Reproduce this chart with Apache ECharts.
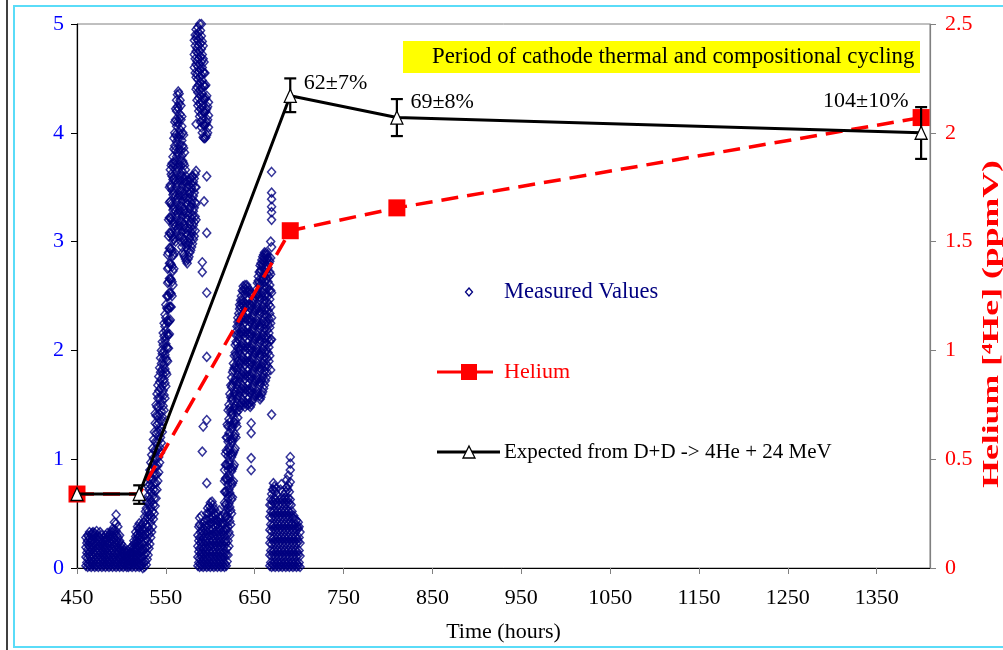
<!DOCTYPE html>
<html><head><meta charset="utf-8">
<script src="https://cdn.jsdelivr.net/npm/echarts@6/dist/echarts.min.js"></script>
<style>html,body{margin:0;padding:0;background:#fff}#c{width:1003px;height:650px}</style>
</head><body><div id="c"></div>
<script>
// ---------- data ----------
const heliumHours = [450, 520, 690, 810, 1400];
const heliumPpmV = [0.34, 0.34, 1.55, 1.655, 2.07];
const expectedHours = [450, 520, 690, 810, 1400];
const expectedPpmV = [0.34, 0.34, 2.17, 2.07, 2.0];
const expectedErrLow = [null, 0.295, 2.095, 1.985, 1.88];
const expectedErrHigh = [null, 0.38, 2.25, 2.155, 2.118];
const expectedNotes = ['', '', '62±7%', '69±8%', '104±10%'];
const seriesNames = ['Measured Values', 'Helium', 'Expected from D+D -> 4He + 24 MeV'];
const rightAxisTitle = 'Helium [\u2074He] (ppmV)';
// measured values: [hour, value, value, ...]
const measuredColumns = [
[460,0.02,0.1,0.19,0.28],[461,0.05,0.14,0.23],[462,0.01,0.09,0.17,0.25,0.3],[463,0.04,0.13,0.21,0.29],
[464,0.02,0.11,0.2,0.27,0.33],[465,0.06,0.15,0.24],[466,0.01,0.08,0.17,0.25,0.3],[467,0.04,0.12,0.21,0.32],
[468,0.02,0.1,0.19,0.27,0.33],[469,0.05,0.14,0.23,0.3],[470,0.01,0.08,0.16,0.24,0.32],[471,0.03,0.12,0.2,0.28],
[472,0.02,0.1,0.18,0.26,0.34],[473,0.05,0.14,0.22,0.3],[474,0.01,0.09,0.17,0.25],[475,0.04,0.12,0.2,0.29],
[476,0.02,0.1,0.19,0.27,0.33],[477,0.06,0.14,0.22],[478,0.01,0.09,0.17,0.24,0.3],[479,0.04,0.12,0.2],
[480,0.02,0.1,0.18,0.25],[481,0.05,0.13,0.21,0.28],[482,0.01,0.09,0.17,0.24,0.3],[483,0.04,0.12,0.2,0.27],
[484,0.02,0.1,0.18,0.26,0.32],[485,0.05,0.13,0.22,0.29],[486,0.01,0.09,0.17,0.24,0.3],[487,0.04,0.12,0.2,0.28],
[488,0.02,0.1,0.18,0.26,0.33],[489,0.05,0.14,0.22,0.3],[490,0.01,0.09,0.17,0.25,0.33,0.36],[491,0.04,0.12,0.21,0.29],
[492,0.02,0.1,0.19,0.27,0.35,0.42],[493,0.05,0.14,0.23,0.31],[494,0.01,0.09,0.18,0.26,0.34,0.41,0.49],[495,0.04,0.13,0.22,0.3],
[496,0.02,0.1,0.19,0.28,0.38],[497,0.05,0.14,0.23],[498,0.01,0.09,0.17,0.25,0.3],[499,0.04,0.12,0.2],
[500,0.02,0.1,0.17,0.22],[501,0.05,0.13],[502,0.01,0.08,0.14,0.2],[503,0.04,0.11,0.17],
[504,0.02,0.09,0.15],[505,0.05,0.12],[506,0.01,0.08,0.14],[507,0.03,0.11,0.16],
[508,0.01,0.07,0.13],[509,0.04,0.1],[510,0.02,0.08,0.14,0.18],[511,0.05,0.12],
[512,0.01,0.08,0.14,0.2],[513,0.04,0.11,0.18],[514,0.02,0.09,0.16,0.22,0.25],[515,0.05,0.12,0.19],
[516,0.01,0.08,0.15,0.22,0.29,0.33],[517,0.04,0.11,0.18,0.26],[518,0.02,0.09,0.16,0.24,0.31,0.38],[519,0.05,0.12,0.2,0.28,0.36],
[520,0.01,0.08,0.15,0.23,0.3,0.36,0.41],[521,0.03,0.11,0.19,0.27,0.34],[522,0.02,0.09,0.16,0.24,0.32,0.38],
[523,0.03,0.15,0.28,0.4],[524,0.0,0.1,0.22,0.35],[525,0.05,0.17,0.3,0.42],[526,0.01,0.12,0.24,0.36,0.47],
[527,0.06,0.18,0.31,0.44,0.52],[528,0.03,0.14,0.27,0.4,0.55,0.62],[529,0.08,0.2,0.33,0.47,0.6],
[530,0.12,0.25,0.38,0.52,0.66,0.75],[531,0.18,0.31,0.45,0.59,0.72,0.82],[532,0.22,0.35,0.49,0.63,0.77,0.9],
[533,0.28,0.42,0.56,0.7,0.84,0.97],[534,0.33,0.47,0.61,0.75,0.9,1.04],[535,0.38,0.52,0.66,0.81,0.95,1.1],
[536,0.45,0.58,0.72,0.87,1.01,1.18],[537,0.5,0.64,0.78,0.93,1.08,1.25],[538,0.57,0.71,0.86,1.01,1.16,1.33,1.42],
[539,0.64,0.78,0.93,1.08,1.24,1.4,1.5],[540,0.72,0.86,1.01,1.16,1.32,1.48,1.6],[541,0.8,0.94,1.09,1.25,1.4,1.56,1.68],
[542,0.88,1.02,1.17,1.33,1.48,1.63,1.76],[543,0.97,1.11,1.26,1.41,1.56,1.71,1.84],[544,1.06,1.2,1.35,1.5,1.65,1.8,1.93],
[545,1.15,1.29,1.44,1.59,1.74,1.88,2.0],[546,1.25,1.39,1.54,1.68,1.83,1.97,2.08],[547,1.35,1.49,1.63,1.78,1.92,2.05,2.16],
[548,1.45,1.59,1.73,1.87,2.0,2.13,2.25],[549,1.56,1.7,1.83,1.96,2.09,2.22,2.33],[550,1.67,1.8,1.93,2.06,2.18,2.3,2.42],
[551,1.78,1.91,2.03,2.15,2.27,2.39,2.5],[552,1.9,2.02,2.14,2.26,2.38,2.5,2.62,2.75,2.88],
[553,2.02,2.14,2.26,2.38,2.5,2.63,2.76,2.9,3.05,3.2],[554,2.15,2.27,2.4,2.53,2.66,2.8,2.94,3.08,3.22,3.36,3.5],
[555,2.28,2.4,2.53,2.66,2.8,2.94,3.08,3.22,3.37,3.52,3.66],[556,2.4,2.52,2.65,2.79,2.93,3.07,3.21,3.35,3.5,3.62,3.7],
[557,2.5,2.63,2.77,2.91,3.05,3.19,3.33,3.47,3.6,3.72],[558,2.6,2.73,2.87,3.01,3.15,3.29,3.43,3.57,3.69,3.78],
[559,2.75,2.88,3.02,3.16,3.3,3.44,3.58,3.72,3.85,3.95],[560,2.9,3.04,3.18,3.32,3.46,3.6,3.74,3.88,4.0,4.1],
[561,3.0,3.14,3.28,3.42,3.56,3.7,3.84,3.98,4.12,4.22],[562,3.08,3.22,3.36,3.5,3.64,3.78,3.92,4.06,4.2,4.3],
[563,3.12,3.26,3.4,3.54,3.68,3.82,3.96,4.1,4.24,4.35],[564,3.1,3.24,3.38,3.52,3.66,3.8,3.94,4.08,4.22,4.38],
[565,3.15,3.29,3.43,3.57,3.71,3.85,3.99,4.13,4.27,4.36],[566,3.05,3.19,3.33,3.47,3.61,3.75,3.89,4.03,4.17,4.3],
[567,3.0,3.14,3.28,3.42,3.56,3.7,3.84,3.98,4.12,4.25],[568,2.95,3.09,3.23,3.37,3.51,3.65,3.79,3.93,4.06,4.15],
[569,2.9,3.04,3.18,3.32,3.46,3.6,3.74,3.88,4.0],[570,2.88,3.02,3.16,3.3,3.44,3.58,3.72,3.86,3.98],
[571,2.86,3.0,3.14,3.28,3.42,3.56,3.7,3.82],[572,2.84,2.98,3.12,3.26,3.4,3.54,3.66],
[573,2.82,2.95,3.08,3.22,3.36,3.5,3.6],[574,2.8,2.93,3.06,3.2,3.34,3.46,3.56],
[575,2.84,2.97,3.1,3.24,3.38,3.5],[576,2.86,2.99,3.12,3.26,3.4,3.52],[577,2.9,3.03,3.16,3.3,3.44,3.56],
[578,2.92,3.05,3.18,3.32,3.46,3.58],[579,2.95,3.08,3.21,3.35,3.49,3.6],[580,2.98,3.11,3.24,3.38,3.52,3.6],
[581,3.02,3.15,3.28,3.42,3.55],[582,3.05,3.18,3.31,3.45,3.58,4.6,4.72,4.85],[583,3.1,3.23,3.36,3.5,3.62,4.55,4.68,4.8,4.9],
[584,3.2,3.35,3.5,3.65,4.08,4.4,4.51,4.63,4.75,4.87,4.95],[585,4.3,4.42,4.54,4.66,4.78,4.9],
[586,4.25,4.37,4.49,4.61,4.73,4.85,4.97],[587,4.2,4.32,4.44,4.56,4.68,4.8,4.92],
[588,4.15,4.27,4.39,4.51,4.63,4.75,4.87,5.0],[589,4.1,4.22,4.34,4.46,4.58,4.7,4.82,4.94],
[590,4.05,4.17,4.29,4.41,4.53,4.65,4.77,4.89,5.0],[591,4.0,4.12,4.24,4.36,4.48,4.6,4.72,4.84,2.81,2.72,1.07],
[592,3.96,4.08,4.2,4.32,4.44,4.56,4.68,4.8,1.3],[593,3.95,4.07,4.19,4.31,4.43,4.55,4.65,3.37],
[594,3.95,4.07,4.19,4.31,4.43,4.55],[595,3.96,4.08,4.2,4.32,4.44],
[596,3.98,4.1,4.22,4.34,3.6,3.08,2.53,1.94,1.36,0.78],[597,4.0,4.12,4.24],[598,4.05,4.16,4.28],
[586,0.02,0.1,0.2,0.3],[587,0.05,0.15,0.25,0.38],[588,0.01,0.09,0.18,0.28,0.4,0.46],[589,0.04,0.13,0.23,0.33],
[590,0.02,0.1,0.19,0.29,0.38,0.48],[591,0.05,0.14,0.24,0.34],[592,0.01,0.09,0.18,0.27,0.37],[593,0.04,0.13,0.22,0.32,0.42],
[594,0.02,0.1,0.19,0.29,0.39],[595,0.05,0.14,0.24,0.34,0.45],[596,0.01,0.09,0.18,0.28,0.38,0.5],[597,0.04,0.13,0.23,0.33,0.44,0.55],
[598,0.02,0.1,0.2,0.3,0.4,0.5],[599,0.05,0.15,0.25,0.35,0.46,0.57],[600,0.01,0.1,0.2,0.3,0.41,0.52,0.6],[601,0.04,0.13,0.23,0.34,0.45,0.55],
[602,0.02,0.11,0.21,0.31,0.42,0.53,0.61],[603,0.05,0.15,0.25,0.36,0.47,0.58],[604,0.01,0.1,0.2,0.3,0.4,0.5],[605,0.04,0.13,0.23,0.33,0.44,0.54],
[606,0.02,0.11,0.21,0.31,0.41,0.49],[607,0.05,0.14,0.24,0.34,0.44],[608,0.01,0.1,0.2,0.3,0.4,0.5],[609,0.04,0.13,0.23,0.33,0.43],
[610,0.02,0.11,0.21,0.31,0.42,0.53],[611,0.05,0.14,0.24,0.35,0.46],[612,0.01,0.1,0.2,0.3,0.4,0.48],[613,0.04,0.13,0.23,0.33,0.42],
[614,0.02,0.11,0.21,0.31,0.4],[615,0.05,0.14,0.24,0.34],
[616,0.01,0.1,0.2,0.3,0.4,0.5,0.6,0.7,0.8,0.9],[617,0.04,0.14,0.25,0.36,0.47,0.58,0.7,0.82,0.95,1.05],
[618,0.02,0.12,0.23,0.35,0.47,0.59,0.71,0.83,0.95,1.08,1.2],[619,0.06,0.18,0.3,0.42,0.55,0.68,0.81,0.94,1.07,1.2,1.32],
[620,0.12,0.25,0.38,0.51,0.64,0.77,0.9,1.03,1.16,1.3,1.45],[621,0.2,0.33,0.46,0.59,0.72,0.85,0.98,1.11,1.24,1.37,1.5],
[622,0.3,0.43,0.56,0.69,0.82,0.95,1.08,1.21,1.34,1.47,1.6],[623,0.4,0.53,0.66,0.79,0.92,1.05,1.18,1.31,1.44,1.57,1.68],
[624,0.5,0.63,0.76,0.89,1.02,1.15,1.28,1.41,1.54,1.66,1.75],[625,0.65,0.78,0.91,1.04,1.17,1.3,1.43,1.56,1.68,1.8],
[626,0.8,0.93,1.06,1.19,1.32,1.45,1.58,1.7,1.82,1.88],[627,0.95,1.08,1.21,1.34,1.47,1.6,1.72,1.84,1.95],
[628,1.1,1.23,1.36,1.49,1.62,1.74,1.86,1.98,2.05],[629,1.2,1.33,1.46,1.59,1.72,1.84,1.96,2.08,2.14],
[630,1.3,1.43,1.56,1.69,1.82,1.94,2.06,2.18,2.22],[631,1.38,1.51,1.64,1.77,1.9,2.02,2.14,2.26,2.3],
[632,1.45,1.58,1.71,1.84,1.97,2.1,2.22,2.34],[633,1.48,1.61,1.74,1.87,2.0,2.13,2.26,2.38,2.42],
[634,1.5,1.63,1.76,1.89,2.02,2.15,2.28,2.4,2.46],[635,1.52,1.65,1.78,1.91,2.04,2.17,2.3,2.43,2.5],
[636,1.55,1.68,1.81,1.94,2.07,2.2,2.33,2.46,2.55],[637,1.5,1.63,1.76,1.89,2.02,2.15,2.28,2.41,2.54,2.59],
[638,1.53,1.66,1.79,1.92,2.05,2.18,2.31,2.44,2.57],[639,1.48,1.61,1.74,1.87,2.0,2.13,2.26,2.39,2.52,2.6],
[640,1.52,1.65,1.78,1.91,2.04,2.17,2.3,2.43,2.56],[641,1.5,1.63,1.76,1.89,2.02,2.15,2.28,2.41,2.54,2.6],
[642,1.55,1.68,1.81,1.94,2.07,2.2,2.33,2.46,2.58],[643,1.5,1.63,1.76,1.89,2.02,2.15,2.28,2.41,2.54],
[644,1.52,1.65,1.78,1.91,2.04,2.17,2.3,2.43,2.55],[645,1.48,1.61,1.74,1.87,2.0,2.13,2.26,2.39,2.52],
[646,0.9,1.01,1.24,1.33,1.5,1.63,1.76,1.89,2.02,2.15,2.28,2.41,2.54],[647,1.53,1.66,1.79,1.92,2.05,2.18,2.31,2.44,2.52],
[648,1.55,1.68,1.81,1.94,2.07,2.2,2.33,2.46],[649,1.58,1.71,1.84,1.97,2.1,2.23,2.36,2.48],
[650,1.6,1.73,1.86,1.99,2.12,2.25,2.38,2.46],[651,1.58,1.71,1.84,1.97,2.1,2.23,2.36,2.49],
[652,1.6,1.73,1.86,1.99,2.12,2.25,2.38,2.51,2.56],[653,1.62,1.75,1.88,2.01,2.14,2.27,2.4,2.53,2.62],
[654,1.6,1.73,1.86,1.99,2.12,2.25,2.38,2.51,2.64,2.68],[655,1.58,1.71,1.84,1.97,2.1,2.23,2.36,2.49,2.62,2.72],
[656,1.55,1.68,1.81,1.94,2.07,2.2,2.33,2.46,2.59,2.72,2.78],[657,1.57,1.7,1.83,1.96,2.09,2.22,2.35,2.48,2.61,2.74,2.8],
[658,1.6,1.73,1.86,1.99,2.12,2.25,2.38,2.51,2.64,2.77,2.83],[659,1.62,1.75,1.88,2.01,2.14,2.27,2.4,2.53,2.66,2.79,2.86],
[660,1.65,1.78,1.91,2.04,2.17,2.3,2.43,2.56,2.69,2.82,2.88],[661,1.68,1.81,1.94,2.07,2.2,2.33,2.46,2.59,2.72,2.85,2.9],
[662,1.72,1.85,1.98,2.11,2.24,2.37,2.5,2.63,2.76,2.88],[663,1.75,1.88,2.01,2.14,2.27,2.4,2.53,2.66,2.79,2.9],
[664,1.8,1.93,2.06,2.19,2.32,2.45,2.58,2.71,2.84,2.88],[665,1.85,1.98,2.11,2.24,2.37,2.5,2.63,2.76,2.85],
[666,1.9,2.03,2.16,2.29,2.42,2.55,2.68,2.8],[667,1.95,2.08,2.21,2.34,2.47,2.6,2.72,2.82],
[668,1.82,2.1,2.25,2.4,2.55,2.7,2.85,3.0],[669,1.41,2.1,2.3,2.53,2.95,3.2,3.27,3.32,3.39,3.45,3.64],
[667,0.02,0.12,0.23,0.35,0.47,0.58],[668,0.05,0.16,0.28,0.4,0.52,0.63],[669,0.01,0.11,0.22,0.34,0.46,0.58,0.68],
[670,0.04,0.15,0.27,0.39,0.51,0.62,0.72],[671,0.02,0.12,0.24,0.36,0.48,0.6,0.72,0.78],[672,0.05,0.16,0.28,0.4,0.52,0.64,0.75],
[673,0.01,0.11,0.23,0.35,0.47,0.59,0.7],[674,0.04,0.15,0.27,0.39,0.51,0.63,0.73],[675,0.02,0.12,0.24,0.36,0.48,0.6],
[676,0.05,0.16,0.28,0.4,0.52],[677,0.01,0.11,0.23,0.35,0.47,0.58],[678,0.04,0.15,0.27,0.39,0.51,0.63],
[679,0.02,0.12,0.24,0.36,0.48,0.6,0.72],[680,0.05,0.16,0.28,0.4,0.52,0.64,0.77],[681,0.01,0.11,0.23,0.35,0.47,0.59,0.7],
[682,0.04,0.15,0.27,0.39,0.51,0.63],[683,0.02,0.12,0.24,0.36,0.48,0.6],[684,0.05,0.16,0.28,0.4,0.52,0.64],
[685,0.01,0.11,0.23,0.35,0.47,0.59,0.7],[686,0.04,0.15,0.27,0.39,0.51,0.63,0.74,0.81],[687,0.02,0.12,0.24,0.36,0.48,0.6,0.72],
[688,0.05,0.16,0.28,0.4,0.52,0.64,0.76,0.85],[689,0.01,0.11,0.23,0.35,0.47,0.59,0.7],[690,0.04,0.15,0.27,0.39,0.51,0.63,0.79,0.9,0.96,1.02],
[691,0.02,0.12,0.24,0.36,0.48,0.58],[692,0.05,0.16,0.28,0.4,0.52],[693,0.01,0.11,0.23,0.35,0.46],
[694,0.04,0.15,0.27,0.39,0.48],[695,0.02,0.12,0.24,0.36,0.45],[696,0.05,0.16,0.28,0.4],
[697,0.01,0.11,0.23,0.35,0.44],[698,0.04,0.15,0.27,0.38],[699,0.02,0.12,0.24,0.36,0.42],
[700,0.05,0.16,0.28,0.38],[701,0.01,0.11,0.23,0.33]
];

// ---------- build ----------
const FONT = 'Liberation Serif';
const measuredPoints = [];
measuredColumns.forEach(col => { for (let i = 1; i < col.length; i++) measuredPoints.push([col[0], col[i]]); });
const heliumNoMarker = [1]; // the 520 h point has no square drawn
const heliumData = heliumHours.map((h, i) => heliumNoMarker.includes(i) ? {value: [h, heliumPpmV[i]], symbol: 'none'} : [h, heliumPpmV[i]]);
const notePlacement = {
  2: {position: 'right', distance: 7, offset: [0, -13]},
  3: {position: 'right', distance: 7, offset: [0, -15]},
  4: {position: 'left', distance: 12, offset: [6, -32]}
};
const expectedData = expectedHours.map((h, i) => {
  const item = {value: [h, expectedPpmV[i]]};
  if (expectedNotes[i]) {
    item.label = Object.assign({show: true, formatter: expectedNotes[i], color: '#000', fontFamily: FONT, fontSize: 22}, notePlacement[i]);
  }
  return item;
});
const errData = expectedHours.map((h, i) => [h, expectedErrLow[i], expectedErrHigh[i]]).filter(d => d[1] != null);

const chart = echarts.init(document.getElementById('c'), null, {renderer: 'canvas'});
chart.setOption({
  animation: false,
  backgroundColor: '#fff',
  grid: {left: 77, right: 73, top: 24, bottom: 82, show: true, borderColor: '#808080', borderWidth: 1, outerBoundsMode: 'none', containLabel: false},
  xAxis: {
    type: 'value', min: 450, max: 1410, interval: 100,
    name: 'Time (hours)', nameLocation: 'middle', nameGap: 53,
    nameTextStyle: {fontFamily: FONT, fontSize: 22, color: '#000'},
    axisLine: {lineStyle: {color: '#000', width: 1.2}},
    axisTick: {length: 6, lineStyle: {color: '#808080'}},
    axisLabel: {fontFamily: FONT, fontSize: 22, color: '#000', margin: 19, showMaxLabel: false, formatter: v => String(v)},
    splitLine: {show: false}
  },
  yAxis: [{
    type: 'value', min: 0, max: 5, interval: 1, position: 'left',
    axisLine: {show: true, lineStyle: {color: '#000', width: 1.2}},
    axisTick: {show: true, length: 6, lineStyle: {color: '#000'}},
    axisLabel: {fontFamily: FONT, fontSize: 22, color: '#0000FF', margin: 13},
    splitLine: {show: false}
  }, {
    type: 'value', min: 0, max: 2.5, interval: 0.5, position: 'right',
    axisLine: {show: true, lineStyle: {color: '#808080', width: 1.2}},
    axisTick: {show: true, length: 6, lineStyle: {color: '#808080'}},
    axisLabel: {fontFamily: FONT, fontSize: 22, color: '#FF0000', margin: 15},
    splitLine: {show: false}
  }],
  series: [{
    name: seriesNames[0], type: 'scatter', yAxisIndex: 0, z: 2,
    symbol: 'diamond', symbolSize: [8, 9],
    itemStyle: {color: 'rgba(255,255,255,0)', borderColor: '#000080', borderWidth: 1.5},
    data: measuredPoints
  }, {
    name: seriesNames[1], type: 'line', yAxisIndex: 1, z: 3,
    symbol: 'rect', symbolSize: 17,
    itemStyle: {color: '#FF0000'},
    lineStyle: {color: '#FF0000', width: 3.5, type: [17, 9]},
    data: heliumData
  }, {
    name: 'err', type: 'custom', yAxisIndex: 1, z: 4,
    data: errData,
    renderItem: function (params, api) {
      const p1 = api.coord([api.value(0), api.value(1)]);
      const p2 = api.coord([api.value(0), api.value(2)]);
      const x = p1[0], yl = p1[1], yh = p2[1];
      const w = 6;
      const st = {stroke: '#000', lineWidth: 2.2};
      return {type: 'group', children: [
        {type: 'line', shape: {x1: x, y1: yl, x2: x, y2: yh}, style: st},
        {type: 'line', shape: {x1: x - w, y1: yl, x2: x + w, y2: yl}, style: st},
        {type: 'line', shape: {x1: x - w, y1: yh, x2: x + w, y2: yh}, style: st}
      ]};
    }
  }, {
    name: seriesNames[2], type: 'line', yAxisIndex: 1, z: 5,
    symbol: 'triangle', symbolSize: [12, 13],
    itemStyle: {color: '#FFFFFF', borderColor: '#000', borderWidth: 1.3},
    lineStyle: {color: '#000', width: 3},
    data: expectedData
  }],
  graphic: [
    {type: 'line', shape: {x1: 7, y1: 0, x2: 7, y2: 650}, style: {stroke: '#000', lineWidth: 1.5}},
    {type: 'rect', shape: {x: 14, y: 6, width: 1000, height: 641}, style: {fill: 'none', stroke: '#5ADCF8', lineWidth: 2}},
    {type: 'rect', shape: {x: 403, y: 41, width: 517, height: 32}, style: {fill: '#FFFF00'}, z: 10},
    {type: 'text', x: 432, y: 57, z: 11, style: {text: 'Period of cathode thermal and compositional cycling', font: '22.8px "Liberation Serif"', fill: '#000', verticalAlign: 'middle'}},
    {type: 'text', x: 992, y: 324, rotation: Math.PI / 2, scaleX: 1.55, z: 11, style: {text: rightAxisTitle, font: 'bold 23px "Liberation Serif"', fill: '#FF0000', align: 'center', verticalAlign: 'middle'}},
    {type: 'polygon', shape: {points: [[469, 288], [472.5, 292], [469, 296], [465.5, 292]]}, style: {fill: 'none', stroke: '#000080', lineWidth: 1.3}, z: 10},
    {type: 'text', x: 504, y: 292, z: 10, style: {text: seriesNames[0], font: '22.5px "Liberation Serif"', fill: '#000080', verticalAlign: 'middle'}},
    {type: 'line', shape: {x1: 437, y1: 372, x2: 493, y2: 372}, style: {stroke: '#FF0000', lineWidth: 3}, z: 10},
    {type: 'rect', shape: {x: 461, y: 364, width: 16, height: 16}, style: {fill: '#FF0000'}, z: 10},
    {type: 'text', x: 504, y: 372, z: 10, style: {text: seriesNames[1], font: '22px "Liberation Serif"', fill: '#FF0000', verticalAlign: 'middle'}},
    {type: 'line', shape: {x1: 437, y1: 452, x2: 500, y2: 452}, style: {stroke: '#000', lineWidth: 3}, z: 10},
    {type: 'polygon', shape: {points: [[469, 446], [475, 458], [463, 458]]}, style: {fill: '#fff', stroke: '#000', lineWidth: 1.3}, z: 11},
    {type: 'text', x: 504, y: 452, z: 10, style: {text: seriesNames[2], font: '21px "Liberation Serif"', fill: '#000', verticalAlign: 'middle', width: 330, overflow: 'truncate', ellipsis: ''}}
  ]
});
</script>
</body></html>
